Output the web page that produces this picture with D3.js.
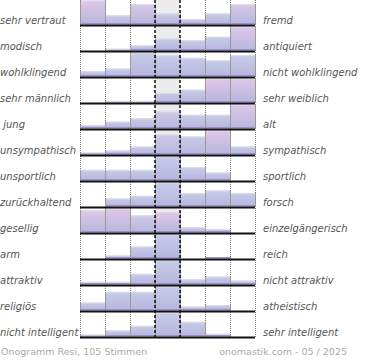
<!DOCTYPE html>
<html>
<head>
<meta charset="utf-8">
<script src="https://cdn.jsdelivr.net/npm/d3@7/dist/d3.min.js"></script>
<style>
  html, body { margin: 0; padding: 0; background: #fff; }
  svg { display: block; }
  text { white-space: pre; }
</style>
</head>
<body>
<div id="chart"></div>
<script>
// ---- data ----
const leftLabels = ["sehr vertraut", "modisch", "wohlklingend", "sehr männlich", " jung", "unsympathisch",
  "unsportlich", "zurückhaltend", "gesellig", "arm", "attraktiv", "religiös", "nicht intelligent"];
const rightLabels = ["fremd", "antiquiert", "nicht wohlklingend", "sehr weiblich", "alt", "sympathisch",
  "sportlich", "forsch", "einzelgängerisch", "reich", "nicht attraktiv", "atheistisch", "sehr intelligent"];
const steps = [1, 2, 3, 4, 5, 6, 7];
// estimated responses per scale step, one array per row
const r01 = [13, 5, 11, 6, 3, 6, 11];
const r02 = [0, 1, 3, 7, 6, 8, 14];
const r03 = [2, 3, 9, 8, 7, 6, 8];
const r04 = [0, 1, 1, 6, 8, 15, 15];
const r05 = [2, 4, 6, 10, 8, 8, 14];
const r06 = [1, 2, 4, 10, 9, 12, 4];
const r07 = [4, 4, 4, 9, 5, 3, 0];
const r08 = [0, 3, 4, 9, 5, 6, 5];
const r09 = [13, 14, 10, 12, 3, 2, 0];
const r10 = [0, 1, 4, 8, 0, 0.5, 0];
const r11 = [1, 1, 4, 9, 2, 3, 1.5];
const r12 = [3, 7, 7, 9, 1.5, 2, 0];
const r13 = [0.7, 2.3, 4, 9, 5.5, 1, 0];
const rows = [r01, r02, r03, r04, r05, r06, r07, r08, r09, r10, r11, r12, r13];
const footerLeft = "Onogramm Resi, 105 Stimmen";
const footerRight = "onomastik.com - 05 / 2025";

// ---- layout ----
const W = 370, H = 360;
const svg = d3.select("#chart").append("svg").attr("width", W).attr("height", H);
const defs = svg.append("defs");

const x = d3.scaleBand().domain(steps).range([80, 255]).paddingInner(0).paddingOuter(0);
const y = d3.scaleBand().domain(d3.range(rows.length)).range([0, 338]);
const barMax = 24;
const base = i => y(i) + 24.5;
const tint = d3.scaleLinear().domain([9, 12]).range([0, 1]).clamp(true);
const topColor = v => d3.interpolateRgb("#c6cce9", "#e0c7e7")(tint(v));

// middle column background
rows.forEach((r, i) => {
  svg.append("rect")
    .attr("x", x(4)).attr("width", x.bandwidth())
    .attr("y", base(i) - 24.5).attr("height", 24.5)
    .attr("fill", "#ececec");
});

// bars
rows.forEach((r, i) => {
  const h = d3.scaleLinear().domain([0, d3.max(r)]).range([0, barMax]);
  const g = svg.append("g");
  r.forEach((v, j) => {
    if (v <= 0) return;
    const s = steps[j];
    const id = `grad-${i}-${j}`;
    const lg = defs.append("linearGradient").attr("id", id)
      .attr("x1", 0).attr("y1", 0).attr("x2", 0).attr("y2", 1);
    lg.append("stop").attr("offset", "0%").attr("stop-color", topColor(v));
    lg.append("stop").attr("offset", "100%").attr("stop-color", "#b7b6dd");
    const hh = h(v);
    const top = base(i) - hh;
    g.append("rect")
      .attr("x", x(s)).attr("width", x.bandwidth())
      .attr("y", top).attr("height", hh)
      .attr("fill", `url(#${id})`);
    // bottom purple strip
    g.append("rect")
      .attr("x", x(s)).attr("width", x.bandwidth())
      .attr("y", base(i) - Math.min(1.5, hh)).attr("height", Math.min(1.5, hh))
      .attr("fill", "#9e90cc");
    // light top edge
    if (hh > 1.5) {
      g.append("line")
        .attr("x1", x(s)).attr("x2", x(s) + x.bandwidth())
        .attr("y1", top + 0.5).attr("y2", top + 0.5)
        .attr("stroke", "#dedee6").attr("stroke-width", 1);
    }
  });
});

// dotted grid lines
const dotted = [1, 2, 3, 6, 7].map(s => x(s)).concat([x(7) + x.bandwidth()]);
dotted.forEach(px => {
  svg.append("line")
    .attr("x1", px + 0.5).attr("x2", px + 0.5).attr("y1", 0).attr("y2", 338)
    .attr("stroke", "#777").attr("stroke-width", 1).attr("stroke-dasharray", "1,1");
});

// bar side edges
rows.forEach((r, i) => {
  const h = d3.scaleLinear().domain([0, d3.max(r)]).range([0, barMax]);
  r.forEach((v, j) => {
    if (v <= 0) return;
    const s = steps[j];
    const hh = h(v);
    [x(s), x(s) + x.bandwidth()].forEach(px => {
      svg.append("line")
        .attr("x1", px + 0.5).attr("x2", px + 0.5)
        .attr("y1", base(i) - hh).attr("y2", base(i))
        .attr("stroke", "#999").attr("stroke-width", 1);
    });
  });
});

// dashed middle lines
[x(4), x(5)].forEach(px => {
  svg.append("line")
    .attr("x1", px).attr("x2", px).attr("y1", 0).attr("y2", 338)
    .attr("stroke", "#000").attr("stroke-width", 1.4).attr("stroke-dasharray", "3,2");
});

// baselines
rows.forEach((r, i) => {
  svg.append("rect")
    .attr("x", 80).attr("width", 175)
    .attr("y", base(i)).attr("height", 2)
    .attr("fill", "#111");
});

// labels
const labelStyle = sel => sel
  .attr("font-family", "'DejaVu Sans', sans-serif")
  .attr("font-size", 10).attr("font-style", "italic").attr("fill", "#555");
svg.append("g").selectAll("text").data(leftLabels).join("text")
  .attr("x", 0).attr("y", (d, i) => base(i) - 1)
  .text(d => d).call(labelStyle);
svg.append("g").selectAll("text").data(rightLabels).join("text")
  .attr("x", 263).attr("y", (d, i) => base(i) - 1)
  .text(d => d).call(labelStyle);

// footer
svg.append("text").attr("x", 1).attr("y", 355)
  .attr("font-family", "'DejaVu Sans', sans-serif").attr("font-size", 9.5)
  .attr("fill", "#aaa").text(footerLeft);
svg.append("text").attr("x", 347).attr("y", 355).attr("text-anchor", "end")
  .attr("font-family", "'DejaVu Sans', sans-serif").attr("font-size", 9.5)
  .attr("fill", "#aaa").text(footerRight);
</script>
</body>
</html>
